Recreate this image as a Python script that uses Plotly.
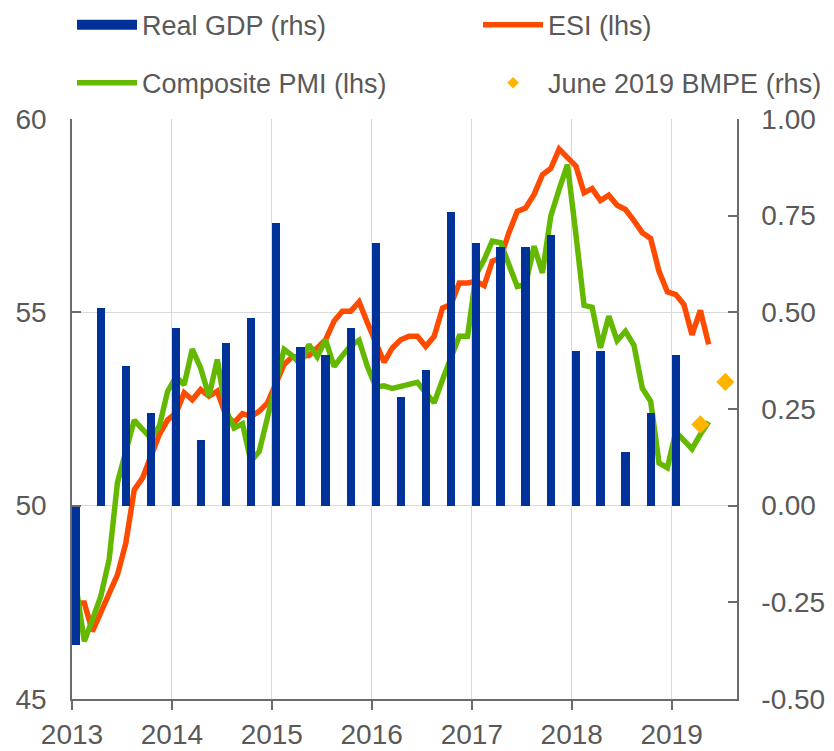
import pandas as pd
import plotly.graph_objects as go

# ---------------- data ----------------
quarters = ["2013-01", "2013-04", "2013-07", "2013-10",
            "2014-01", "2014-04", "2014-07", "2014-10",
            "2015-01", "2015-04", "2015-07", "2015-10",
            "2016-01", "2016-04", "2016-07", "2016-10",
            "2017-01", "2017-04", "2017-07", "2017-10",
            "2018-01", "2018-04", "2018-07", "2018-10",
            "2019-01"]
real_gdp = [-0.36, 0.51, 0.36, 0.24,
            0.46, 0.17, 0.42, 0.485,
            0.73, 0.41, 0.39, 0.46,
            0.68, 0.28, 0.35, 0.76,
            0.68, 0.67, 0.67, 0.70,
            0.40, 0.40, 0.14, 0.24,
            0.39]

months = pd.date_range("2013-01-01", "2019-05-01", freq="MS").strftime("%Y-%m").tolist()
esi = [47.48, 47.48, 46.75, 47.22, 47.74, 48.21, 49.03, 50.41, 50.72, 51.28, 51.84, 52.22,
       52.40, 52.92, 52.74, 53.00, 52.83, 52.96, 52.35, 52.15, 52.38, 52.31, 52.44, 52.66,
       53.13, 53.65, 53.85, 53.85, 53.88, 54.08, 54.29, 54.77, 55.03, 55.03, 55.27, 54.73,
       54.21, 53.71, 54.08, 54.29, 54.38, 54.38, 54.12, 54.38, 55.11, 55.20, 55.76, 55.76,
       55.80, 55.69, 56.32, 56.41, 57.06, 57.61, 57.70, 58.05, 58.56, 58.72, 59.22, 59.01,
       58.78, 58.09, 58.20, 57.89, 58.03, 57.77, 57.66, 57.37, 57.06, 56.91, 56.06, 55.53,
       55.46, 55.20, 54.42, 55.05, 54.17]
pmi = [47.87, 46.49, 47.05, 47.65, 48.60, 50.59, 51.40, 52.21, 51.97, 51.75, 52.05, 52.96,
       53.33, 53.13, 54.05, 53.56, 52.83, 53.78, 52.48, 52.01, 52.12, 51.15, 51.40, 52.31,
       53.17, 54.04, 53.88, 53.65, 54.17, 53.85, 54.29, 53.60, 53.88, 54.14, 54.28, 53.60,
       53.07, 53.10, 53.03, 53.08, 53.13, 53.19, 52.92, 52.66, 53.26, 53.82, 54.38, 54.38,
       55.98, 56.36, 56.84, 56.80, 56.24, 55.67, 55.72, 56.71, 56.02, 57.49, 58.18, 58.82,
       57.01, 55.18, 55.13, 54.08, 54.90, 54.27, 54.51, 54.15, 53.04, 52.70, 51.10, 50.98,
       51.91, 51.68, 51.47, 51.84, 52.17]

bmpe_quarters = ["2019-04", "2019-07"]
bmpe = [0.21, 0.32]

year_ticks = ["2013", "2014", "2015", "2016", "2017", "2018", "2019"]
left_ticks = [45, 50, 55, 60]
right_ticks = [-0.50, -0.25, 0.00, 0.25, 0.50, 0.75, 1.00]

# ---------------- style ----------------
BLUE = "#003299"
ORANGE = "#FF4B00"
GREEN = "#65B800"
YELLOW = "#FFB400"
TEXT = "#595959"
AXIS = "#6b6b6b"
GRID = "#d9d9d9"
FONT = "Liberation Sans, Arial, sans-serif"
FS = 27
TFS = 28
MONTH_MS = 30 * 24 * 3600 * 1000

fig = go.Figure()

fig.add_trace(go.Bar(
    x=quarters, y=real_gdp, yaxis="y2", marker=dict(color=BLUE, line=dict(width=0)),
    width=MONTH_MS, xperiod="M1", xperiodalignment="middle",
    showlegend=False, name="Real GDP (rhs)"))
fig.add_trace(go.Scatter(
    x=months, y=esi, mode="lines", line=dict(color=ORANGE, width=5.5),
    xperiod="M1", xperiodalignment="middle", name="ESI (lhs)", legend="legend2"))
fig.add_trace(go.Scatter(
    x=months, y=pmi, mode="lines", line=dict(color=GREEN, width=5.5),
    xperiod="M1", xperiodalignment="middle", name="Composite PMI (lhs)", legend="legend3"))
fig.add_trace(go.Scatter(
    x=bmpe_quarters, y=bmpe, yaxis="y2", mode="markers",
    marker=dict(symbol="diamond", size=14, color=YELLOW),
    xperiod="M1", xperiodalignment="middle", showlegend=False, name="June 2019 BMPE (rhs)"))

# legend-only entries
fig.add_trace(go.Scatter(x=[None], y=[None], mode="lines", line=dict(color=BLUE, width=15),
                         name="Real GDP (rhs)", legend="legend"))
fig.add_trace(go.Scatter(x=[None], y=[None], mode="markers",
                         marker=dict(symbol="diamond", size=9, color=YELLOW),
                         name="June 2019 BMPE (rhs)", legend="legend4"))

leg_common = dict(font=dict(family=FONT, size=FS, color=TEXT), bgcolor="rgba(0,0,0,0)",
                  itemwidth=60, xanchor="left", yanchor="top", orientation="h")
col2 = (478 - 72) / 665

# the page body adds an 8 px offset, so the figure is 8 px smaller on each side
fig.update_layout(
    width=826, height=743,
    margin=dict(l=64, r=97, t=111, b=52, autoexpand=False),
    paper_bgcolor="white", plot_bgcolor="white",
    font=dict(family=FONT, size=FS, color=TEXT),
    bargap=0,
    legend=dict(x=0, y=1.204, **leg_common),
    legend2=dict(x=col2, y=1.204, **leg_common),
    legend3=dict(x=0, y=1.104, **leg_common),
    legend4=dict(x=col2, y=1.104, **leg_common),
    xaxis=dict(
        type="date", range=["2013-01-01", "2019-08-28"],
        tickvals=[y + "-01-01" for y in year_ticks], ticktext=year_ticks,
        showgrid=True, gridcolor=GRID, gridwidth=1,
        showline=True, linecolor=AXIS, linewidth=1.5,
        ticks="outside", ticklen=9, tickcolor=AXIS, tickwidth=1.5,
        ticklabelstandoff=1, zeroline=False,
        tickfont=dict(family=FONT, size=TFS, color=TEXT)),
    yaxis=dict(
        range=[45, 60], tickvals=left_ticks, ticktext=[str(v) for v in left_ticks],
        showgrid=True, gridcolor=GRID, gridwidth=1,
        showline=True, linecolor=AXIS, linewidth=1.5,
        ticks="inside", ticklen=9, tickcolor=AXIS, tickwidth=1.5,
        ticklabelstandoff=18, zeroline=False,
        tickfont=dict(family=FONT, size=TFS, color=TEXT)),
    yaxis2=dict(
        range=[-0.5, 1.0], tickvals=right_ticks, ticktext=[f"{v:.2f}" for v in right_ticks],
        overlaying="y", side="right", showgrid=False,
        showline=True, linecolor=AXIS, linewidth=1.5,
        ticks="inside", ticklen=9, tickcolor=AXIS, tickwidth=1.5,
        ticklabelstandoff=17, zeroline=False,
        tickfont=dict(family=FONT, size=TFS, color=TEXT)),
)

fig.write_html("out.html")
